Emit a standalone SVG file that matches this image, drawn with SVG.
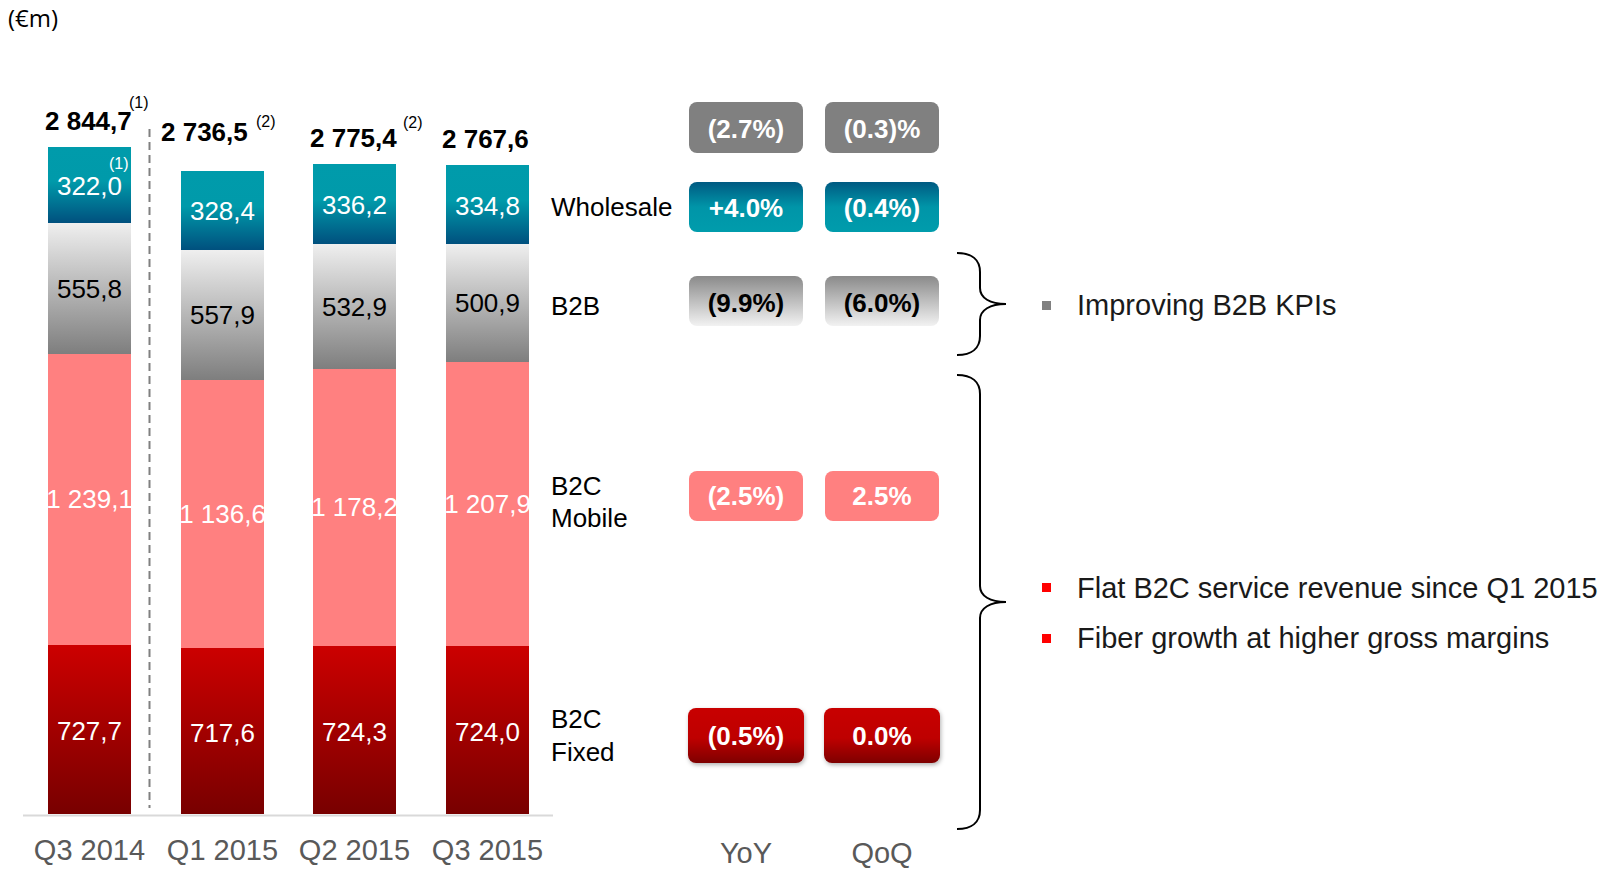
<svg xmlns="http://www.w3.org/2000/svg" width="1614" height="869" viewBox="0 0 1614 869">
<defs>
<linearGradient id="gWh" x1="0" y1="0" x2="0" y2="1"><stop offset="0" stop-color="#009BAB"/><stop offset="0.45" stop-color="#009AAA"/><stop offset="1" stop-color="#00507E"/></linearGradient>
<linearGradient id="gB2B" x1="0" y1="0" x2="0" y2="1"><stop offset="0" stop-color="#EFEFEF"/><stop offset="1" stop-color="#7E7E7E"/></linearGradient>
<linearGradient id="gFix" x1="0" y1="0" x2="0" y2="1"><stop offset="0" stop-color="#CC0000"/><stop offset="1" stop-color="#780000"/></linearGradient>
<linearGradient id="pWh" x1="0" y1="0" x2="0" y2="1"><stop offset="0" stop-color="#005A82"/><stop offset="0.5" stop-color="#0095A8"/><stop offset="1" stop-color="#009CAC"/></linearGradient>
<linearGradient id="pB2B" x1="0" y1="0" x2="0" y2="1"><stop offset="0" stop-color="#8A8A8A"/><stop offset="1" stop-color="#F2F2F2"/></linearGradient>
<linearGradient id="pFix" x1="0" y1="0" x2="0" y2="1"><stop offset="0" stop-color="#C80000"/><stop offset="0.55" stop-color="#BE0000"/><stop offset="1" stop-color="#7E0000"/></linearGradient>
<filter id="sh" x="-10%" y="-10%" width="125%" height="135%"><feDropShadow dx="1" dy="2" stdDeviation="2" flood-color="#000" flood-opacity="0.3"/></filter>
</defs>
<style>
text{font-family:"Liberation Sans",Arial,sans-serif}
.tot{font-size:26px;font-weight:bold;fill:#000}
.sup{font-size:16px;fill:#000}
.val{font-size:26px;text-anchor:middle}
.w{fill:#fff}
.k{fill:#000}
.lbl{font-size:26px;fill:#000}
.pill{font-size:26px;font-weight:bold;text-anchor:middle}
.ax{font-size:29px;fill:#595959;text-anchor:middle}
.note{font-size:29px;fill:#1a1a1a}
.brace{fill:none;stroke:#000;stroke-width:2}
</style>
<rect width="1614" height="869" fill="#fff"/>
<text x="8" y="27" style="font-family:'Open Sans',sans-serif;font-size:24px" fill="#000">(€m)</text>

<g id="axis">
<line x1="23" y1="815.5" x2="553" y2="815.5" stroke="#D9D9D9" stroke-width="2"/>
</g>
<g id="connectors">
<line x1="149.5" y1="129" x2="149.5" y2="808" stroke="#808080" stroke-width="2" stroke-dasharray="8 5"/>
<path class="brace" d="M957,253 C972,253 980,260 980,272 L980,288 C980,298 990,304 1006,304 C990,304 980,310 980,320 L980,336 C980,348 972,355 957,355"/>
<path class="brace" d="M957,375 C972,375 980,382 980,394 L980,586 C980,596 990,602 1006,602 C990,602 980,608 980,618 L980,810 C980,822 972,829 957,829"/>
</g>

<g id="bar-q3-2014">
<rect x="48" y="147" width="83" height="76" fill="url(#gWh)"/>
<rect x="48" y="223" width="83" height="131" fill="url(#gB2B)"/>
<rect x="48" y="354" width="83" height="291" fill="#FF8080"/>
<rect x="48" y="645" width="83" height="169" fill="url(#gFix)"/>
<text class="val w" x="89.5" y="195">322,0</text>
<text class="sup w" x="109" y="169">(1)</text>
<text class="val k" x="89.5" y="298">555,8</text>
<text class="val w" x="89.5" y="508">1 239,1</text>
<text class="val w" x="89.5" y="740">727,7</text>
<text class="tot" x="45" y="130">2 844,7</text>
<text class="sup" x="129" y="108">(1)</text>
<text class="ax" x="89.5" y="860">Q3 2014</text>
</g>
<g id="bar-q1-2015">
<rect x="181" y="171" width="83" height="79" fill="url(#gWh)"/>
<rect x="181" y="250" width="83" height="130" fill="url(#gB2B)"/>
<rect x="181" y="380" width="83" height="268" fill="#FF8080"/>
<rect x="181" y="648" width="83" height="166" fill="url(#gFix)"/>
<text class="val w" x="222.5" y="220">328,4</text>
<text class="val k" x="222.5" y="324">557,9</text>
<text class="val w" x="222.5" y="523">1 136,6</text>
<text class="val w" x="222.5" y="742">717,6</text>
<text class="tot" x="161" y="141">2 736,5</text>
<text class="sup" x="256" y="127">(2)</text>
<text class="ax" x="222.5" y="860">Q1 2015</text>
</g>
<g id="bar-q2-2015">
<rect x="313" y="164" width="83" height="80" fill="url(#gWh)"/>
<rect x="313" y="244" width="83" height="125" fill="url(#gB2B)"/>
<rect x="313" y="369" width="83" height="277" fill="#FF8080"/>
<rect x="313" y="646" width="83" height="168" fill="url(#gFix)"/>
<text class="val w" x="354.5" y="214">336,2</text>
<text class="val k" x="354.5" y="316">532,9</text>
<text class="val w" x="354.5" y="516">1 178,2</text>
<text class="val w" x="354.5" y="741">724,3</text>
<text class="tot" x="310" y="147">2 775,4</text>
<text class="sup" x="403" y="128">(2)</text>
<text class="ax" x="354.5" y="860">Q2 2015</text>
</g>
<g id="bar-q3-2015">
<rect x="446" y="165" width="83" height="79" fill="url(#gWh)"/>
<rect x="446" y="244" width="83" height="118" fill="url(#gB2B)"/>
<rect x="446" y="362" width="83" height="284" fill="#FF8080"/>
<rect x="446" y="646" width="83" height="168" fill="url(#gFix)"/>
<text class="val w" x="487.5" y="215">334,8</text>
<text class="val k" x="487.5" y="312">500,9</text>
<text class="val w" x="487.5" y="513">1 207,9</text>
<text class="val w" x="487.5" y="741">724,0</text>
<text class="tot" x="442" y="148">2 767,6</text>
<text class="ax" x="487.5" y="860">Q3 2015</text>
</g>

<g id="labels">
<text class="lbl" x="551" y="216">Wholesale</text>
<text class="lbl" x="551" y="315">B2B</text>
<text class="lbl" x="551" y="495">B2C</text>
<text class="lbl" x="551" y="527">Mobile</text>
<text class="lbl" x="551" y="728">B2C</text>
<text class="lbl" x="551" y="761">Fixed</text>
</g>

<g id="pill-total">
<rect x="689" y="102" width="114" height="51" rx="8" fill="#808080"/>
<text class="pill w" x="746" y="138">(2.7%)</text>
<rect x="825" y="102" width="114" height="51" rx="8" fill="#808080"/>
<text class="pill w" x="882" y="138">(0.3)%</text>
</g>
<g id="pill-wholesale">
<rect x="689" y="182" width="114" height="50" rx="8" fill="url(#pWh)"/>
<text class="pill w" x="746" y="217">+4.0%</text>
<rect x="825" y="182" width="114" height="50" rx="8" fill="url(#pWh)"/>
<text class="pill w" x="882" y="217">(0.4%)</text>
</g>
<g id="pill-b2b">
<rect x="689" y="276" width="114" height="50" rx="8" fill="url(#pB2B)"/>
<text class="pill k" x="746" y="312">(9.9%)</text>
<rect x="825" y="276" width="114" height="50" rx="8" fill="url(#pB2B)"/>
<text class="pill k" x="882" y="312">(6.0%)</text>
</g>
<g id="pill-mobile">
<rect x="689" y="471" width="114" height="50" rx="8" fill="#FF8080"/>
<text class="pill w" x="746" y="505">(2.5%)</text>
<rect x="825" y="471" width="114" height="50" rx="8" fill="#FF8080"/>
<text class="pill w" x="882" y="505">2.5%</text>
</g>
<g id="pill-fixed">
<rect x="688" y="708" width="116" height="55" rx="8" fill="url(#pFix)" filter="url(#sh)"/>
<text class="pill w" x="746" y="745">(0.5%)</text>
<rect x="824" y="708" width="116" height="55" rx="8" fill="url(#pFix)" filter="url(#sh)"/>
<text class="pill w" x="882" y="745">0.0%</text>
</g>
<g id="column-heads">
<text class="ax" x="746" y="863">YoY</text>
<text class="ax" x="882" y="863">QoQ</text>
</g>

<g id="notes">
<rect x="1042" y="301" width="9" height="9" fill="#808080"/>
<text class="note" x="1077" y="315">Improving B2B KPIs</text>
<rect x="1042" y="583" width="9" height="9" fill="#FF0000"/>
<text class="note" x="1077" y="598">Flat B2C service revenue since Q1 2015</text>
<rect x="1042" y="634" width="9" height="9" fill="#FF0000"/>
<text class="note" x="1077" y="648">Fiber growth at higher gross margins</text>
</g>
</svg>
